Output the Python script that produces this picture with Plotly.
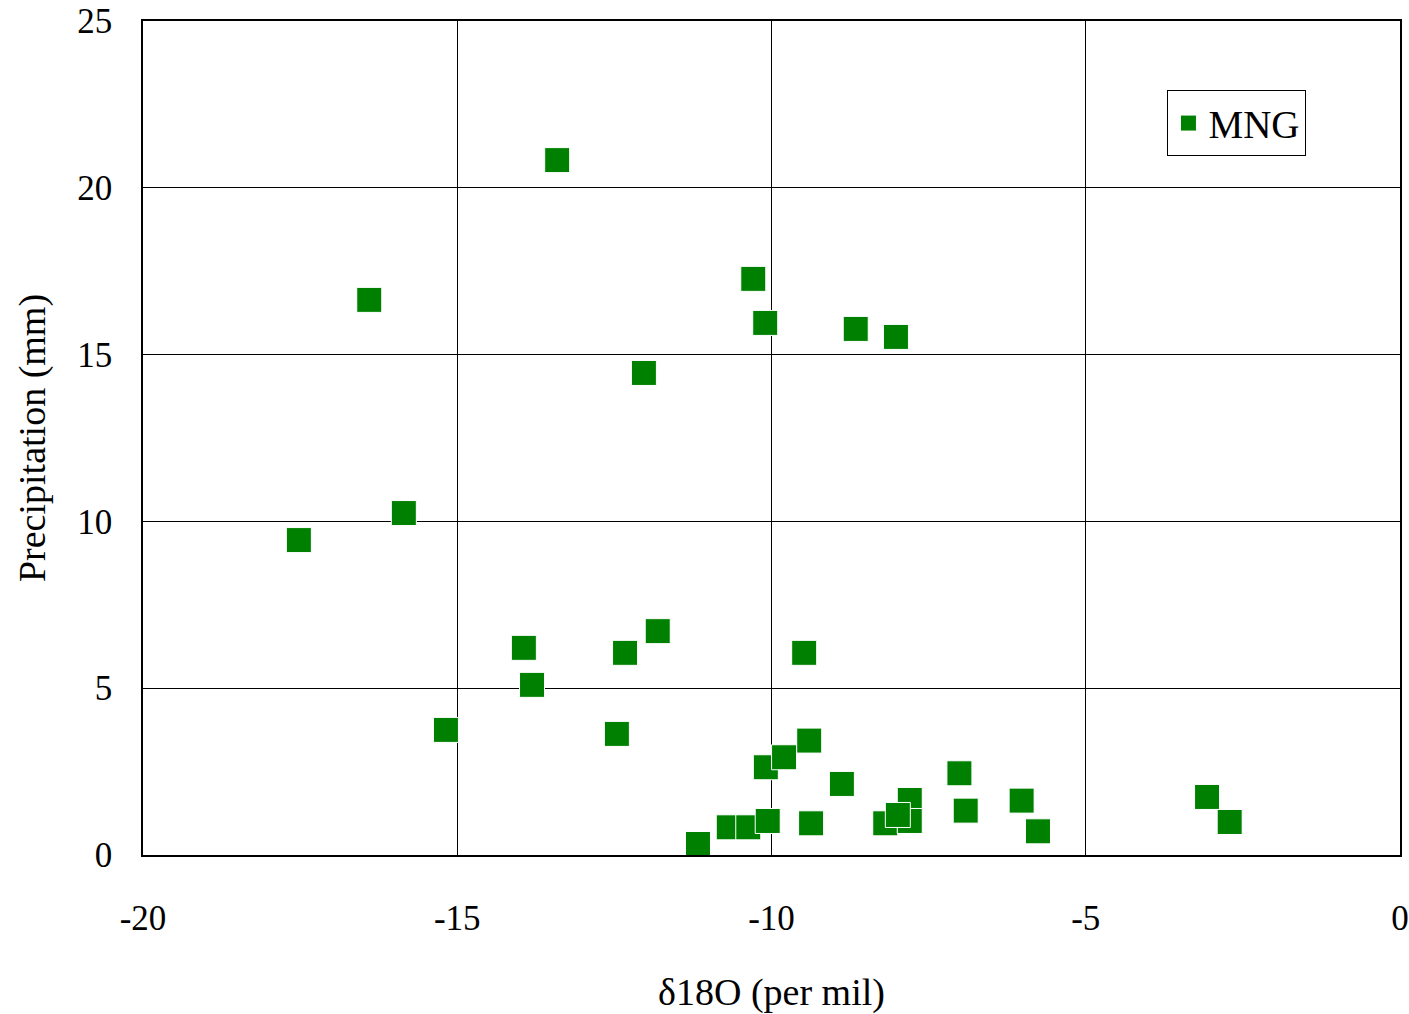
import plotly.graph_objects as go

d18O = [-13.41, -16.40, -10.29, -10.10, -8.66, -8.02, -12.03, -15.85, -17.52,
        -13.94, -13.81, -12.33, -11.81, -9.48, -15.18, -12.46,
        -11.17, -10.68, -10.37, -10.06, -9.37, -10.09, -9.80, -9.40, -8.88,
        -8.19, -7.80, -7.80, -7.99, -7.01, -6.91, -6.02, -5.76, -3.07, -2.71]
precip = [20.83, 16.64, 17.27, 15.95, 15.77, 15.53, 14.45, 10.25, 9.44,
          6.21, 5.10, 6.06, 6.71, 6.06, 3.75, 3.63,
          0.33, 0.83, 0.83, 1.02, 0.95, 2.63, 2.93, 3.43, 2.13,
          0.95, 1.65, 1.02, 1.20, 2.45, 1.33, 1.63, 0.71, 1.74, 0.99]

x_ticks = [-20, -15, -10, -5, 0]
x_labels = ["-20", "-15", "-10", "-5", "0"]
y_ticks = [0, 5, 10, 15, 20, 25]
y_labels = ["0", "5", "10", "15", "20", "25"]

font = "Liberation Serif, Times New Roman, serif"

fig = go.Figure()
fig.add_trace(go.Scatter(
    x=d18O, y=precip, mode="markers", name="MNG",
    marker=dict(symbol="square", size=25, color="#008000",
                line=dict(color="white", width=1)),
    cliponaxis=False,
))

fig.update_layout(
    width=1409, height=1014,
    margin=dict(l=143, r=9, t=21, b=159),
    paper_bgcolor="white", plot_bgcolor="white",
    font=dict(family=font, size=35, color="black"),
    showlegend=True,
    legend=dict(x=0.815, y=0.917, xanchor="left", yanchor="top",
                bordercolor="black", borderwidth=1, bgcolor="white",
                font=dict(size=39, family=font)),
    xaxis=dict(range=[-20, 0], tickvals=x_ticks, ticktext=x_labels, ticks="",
               showgrid=True, gridcolor="black", gridwidth=1,
               showline=True, linecolor="black", linewidth=1.5, mirror=True,
               zeroline=False, ticklabelstandoff=31, automargin=False,
               title=dict(text="δ18O (per mil)", font=dict(size=38), standoff=42),
               tickfont=dict(size=35)),
    yaxis=dict(range=[0, 25], tickvals=y_ticks, ticktext=y_labels, ticks="",
               showgrid=True, gridcolor="black", gridwidth=1,
               showline=True, linecolor="black", linewidth=1.5, mirror=True,
               zeroline=False, ticklabelstandoff=22, automargin=False,
               title=dict(text="Precipitation (mm)", font=dict(size=38), standoff=20),
               tickfont=dict(size=35)),
)

fig.write_html("out.html")
